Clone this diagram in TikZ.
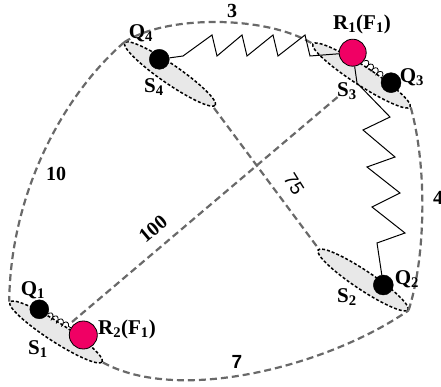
\documentclass[tikz,border=0pt]{standalone}
\usepackage{fontspec}
\setmainfont{Liberation Serif}
\newfontfamily\sansf{Liberation Sans}
\usetikzlibrary{shapes.geometric,decorations.pathmorphing}
\definecolor{dgray}{RGB}{105,105,105}
\definecolor{segfill}{RGB}{232,232,232}
\definecolor{rball}{RGB}{240,0,100}
\begin{document}
\begin{tikzpicture}[x=1pt,y=-1pt,
  seg/.style={draw=black, ellipse, fill=segfill, line width=1.5pt, dash pattern=on 3pt off 2pt, inner sep=0pt, minimum height=19pt},
  link/.style={draw=dgray, line width=2.2pt, dash pattern=on 7pt off 4pt},
  qdot/.style={circle, fill=black, draw=black, inner sep=0pt, minimum size=20pt},
  rdot/.style={circle, fill=rball, draw=black, line width=0.8pt, inner sep=0pt, minimum size=27pt},
  spr/.style={draw=black, line width=1pt},
  coilspr/.style={draw=black, line width=0.8pt, decorate, decoration={coil, amplitude=3pt, segment length=6pt}},
  lab/.style={font=\fontsize{21}{21}\selectfont\bfseries, inner sep=0pt},
  wlab/.style={font=\fontsize{20}{20}\selectfont\bfseries, inner sep=0pt}]
\useasboundingbox (0,0) rectangle (441,387);

% segments (ellipses)
\node[seg, minimum width=110pt, rotate=-34.6] (S4) at (170,74) {};
\node[seg, minimum width=116pt, rotate=-33] (S3) at (361.5,75.5) {};
\node[seg, minimum width=108pt, rotate=-33.7] (S2) at (363,280) {};
\node[seg, minimum width=110pt, rotate=-33] (S1) at (56,332) {};

% free ends of the straight links
\coordinate (a100) at (72,322);
\coordinate (b100) at (340,95);
\coordinate (a75) at (214,108);
\coordinate (b75) at (318,248);

% dashed gray links
\draw[link] (S4.west) .. controls (165,15) and (265,15) .. (S3.west);
\draw[link] (S4.west) .. controls (58,100) and (10,200) .. (S1.west);
\draw[link] (S1.east) .. controls (180,405) and (330,365) .. (S2.east);
\draw[link] (S3.east) .. controls (428,170) and (425,260) .. (S2.east);
\draw[link] (a100) -- (b100);
\draw[link] (a75) -- (b75);

% points
\node[qdot] (Q4) at (159.3,59.3) {};
\node[rdot] (R1) at (352.7,52.7) {};
\node[qdot] (Q3) at (391,82.7) {};
\node[qdot] (Q2) at (383.3,285) {};
\node[qdot, minimum size=19pt] (Q1) at (39.3,309.3) {};
\node[rdot, minimum size=28pt] (R2) at (83.3,335) {};

% springs
\draw[spr] (Q4) -- (183,56) -- (212,35) -- (217,56) -- (242,35) -- (247,56)
  -- (273,35) -- (278,56) -- (305,35) -- (310,56) -- (R1);
\draw[spr] (R1) -- (357,83) -- (390,117) -- (363,130) -- (395,157) -- (367,167)
  -- (400,193) -- (372,207) -- (405,233) -- (377,243) -- (Q2);
\draw[coilspr] (R1) -- (Q3);
\draw[coilspr] (Q1) -- (R2);

% point and segment labels
\node[lab] (lQ4) at (141,33) {Q\textsubscript{4}};
\node[lab] (lS4) at (154,87) {S\textsubscript{4}};
\node[lab] (lR1) at (362,24) {R\textsubscript{1}(F\textsubscript{1})};
\node[lab] (lQ3) at (412,77) {Q\textsubscript{3}};
\node[lab] (lS3) at (347,91) {S\textsubscript{3}};
\node[lab] (lQ2) at (407,279) {Q\textsubscript{2}};
\node[lab] (lS2) at (347,297) {S\textsubscript{2}};
\node[lab] (lQ1) at (33,290) {Q\textsubscript{1}};
\node[lab] (lR2) at (127,329) {R\textsubscript{2}(F\textsubscript{1})};
\node[lab] (lS1) at (38,349) {S\textsubscript{1}};

% weights
\node[wlab] (w3) at (232,11) {3};
\node[wlab] (w10) at (56,174) {10};
\node[wlab, rotate=40] (w100) at (153,229) {100};
\node[font=\fontsize{19}{19}\selectfont\sansf, inner sep=0pt, rotate=-58] (w75) at (294,184) {75};
\node[font=\fontsize{19}{19}\selectfont\sansf\bfseries, inner sep=0pt] (w7) at (237,362) {7};
\node[wlab] (w4) at (438,198) {4};
\end{tikzpicture}
\end{document}
